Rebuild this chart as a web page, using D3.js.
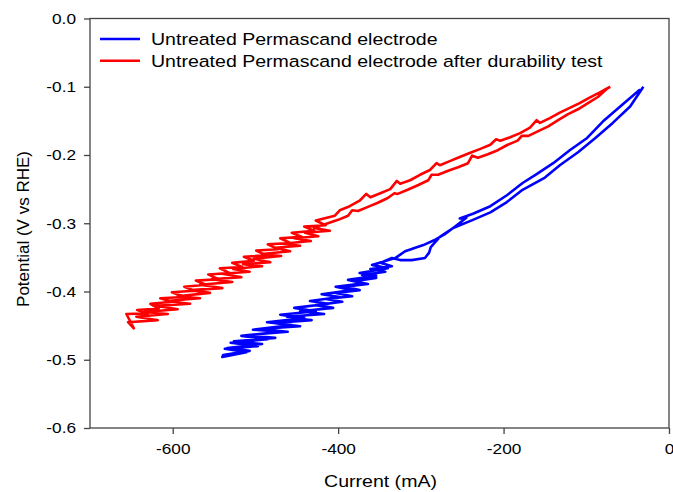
<!DOCTYPE html>
<html>
<head>
<meta charset="utf-8">
<script src="https://cdn.jsdelivr.net/npm/d3@7"></script>
<style>
  body { margin: 0; background: #fff; }
  text { font-family: "Liberation Sans", Arial, sans-serif; }
</style>
</head>
<body>
<div id="chart"></div>
<script>

// series names
var seriesNames = ["Untreated Permascand electrode",
                   "Untreated Permascand electrode after durability test"];

// blue loop: [current mA, potential V], down the lower branch then back up
var blueCurrent = [-31, -47, -68, -89, -110, -132, -150, -177, -196, -216, -237, -261, -277,
  -288, -290, -295, -311, -325, -335,
  -349, -335, -361, -343, -371, -354, -381, -364, -392, -374, -403, -383, -415, -395,
  -427, -406, -446, -417, -462, -432, -478, -446, -495, -461, -512, -476, -526, -492,
  -534, -507, -539,
  -540, -511, -537, -497, -530, -485, -517, -470, -503, -456, -486, -441, -470, -427,
  -453, -412, -434, -398, -420, -383, -403, -369, -388, -354, -374, -340, -359, -331,
  -319, -297, -284, -271, -259, -245, -253, -237,
  -216, -196, -177, -160, -140, -120, -99, -80, -59, -35];
var bluePotential = [-0.100, -0.129, -0.153, -0.175, -0.196, -0.215, -0.233, -0.251, -0.269, -0.284, -0.295, -0.307, -0.320,
  -0.335, -0.343, -0.351, -0.354, -0.354, -0.351,
  -0.358, -0.363, -0.367, -0.371, -0.376, -0.380, -0.385, -0.389, -0.393, -0.398, -0.402, -0.407, -0.411, -0.415,
  -0.420, -0.424, -0.429, -0.433, -0.437, -0.442, -0.446, -0.451, -0.455, -0.459, -0.464, -0.468, -0.473, -0.477,
  -0.483, -0.487, -0.493,
  -0.496, -0.489, -0.484, -0.480, -0.475, -0.470, -0.465, -0.459, -0.456, -0.449, -0.445, -0.439, -0.434, -0.429,
  -0.424, -0.418, -0.414, -0.408, -0.404, -0.398, -0.393, -0.388, -0.383, -0.377, -0.373, -0.366, -0.361, -0.351,
  -0.341, -0.332, -0.325, -0.316, -0.305, -0.292, -0.293, -0.286,
  -0.275, -0.259, -0.241, -0.228, -0.212, -0.193, -0.175, -0.151, -0.129, -0.104];

// red loop after durability test: lower line down, noisy band down and up, upper line back
var redCurrent = [-75, -86, -98, -110, -122, -134, -146, -158, -170, -178, -183, -195, -207, -219, -231,
  -238, -243, -255, -267, -279, -287, -291, -303, -316, -328, -332, -340, -352, -364, -376, -383, -388, -400,
  -429, -410, -440, -424, -453, -433, -467, -446, -476, -458, -492, -469, -502, -482, -515, -492,
  -527, -507, -540, -517, -553, -528, -567, -540, -579, -555, -594, -567, -608, -579, -621, -594,
  -634, -606, -644, -618, -654, -647,
  -656, -630, -643, -617, -627, -601, -615, -586, -601, -574, -586, -560, -572, -545, -557, -531,
  -543, -516, -528, -502, -514, -487, -499, -473, -485, -458, -470, -444, -456, -429, -441, -415,
  -427, -404,
  -398, -386, -374, -366, -361, -349, -337, -329, -325, -313, -301, -289, -281, -277, -265, -253,
  -241, -228, -216, -209, -204, -192, -180, -168, -160, -156, -144, -132, -120, -108, -96, -83, -71];
var redPotential = [-0.103, -0.115, -0.124, -0.133, -0.140, -0.149, -0.158, -0.165, -0.172, -0.172, -0.179, -0.185, -0.193, -0.199, -0.204,
  -0.201, -0.212, -0.218, -0.223, -0.229, -0.229, -0.237, -0.244, -0.251, -0.257, -0.256, -0.263, -0.270, -0.276, -0.282, -0.281, -0.289, -0.295,
  -0.307, -0.311, -0.314, -0.319, -0.322, -0.326, -0.330, -0.333, -0.336, -0.341, -0.345, -0.348, -0.352, -0.357, -0.360, -0.363,
  -0.367, -0.371, -0.374, -0.379, -0.382, -0.386, -0.390, -0.395, -0.398, -0.402, -0.407, -0.410, -0.414, -0.418, -0.421, -0.426,
  -0.430, -0.433, -0.437, -0.442, -0.445, -0.454,
  -0.433, -0.432, -0.427, -0.425, -0.418, -0.415, -0.410, -0.408, -0.401, -0.399, -0.393, -0.390, -0.384, -0.382, -0.375, -0.373,
  -0.366, -0.364, -0.358, -0.355, -0.349, -0.347, -0.340, -0.338, -0.331, -0.329, -0.322, -0.320, -0.314, -0.311, -0.305, -0.303,
  -0.296, -0.289,
  -0.281, -0.275, -0.267, -0.257, -0.262, -0.256, -0.250, -0.238, -0.242, -0.237, -0.229, -0.222, -0.212, -0.215, -0.209, -0.203,
  -0.197, -0.191, -0.185, -0.177, -0.179, -0.174, -0.168, -0.160, -0.149, -0.153, -0.146, -0.138, -0.131, -0.124, -0.116, -0.108, -0.100];

var xTicks = [-600, -400, -200, 0];
var yTicks = [-0.6, -0.5, -0.4, -0.3, -0.2, -0.1, 0.0];

var svg_width = 673;
var svg_height = 492;
var plot_left = 90, plot_right = 669, plot_top = 18.5, plot_bottom = 428;
var axis_color = "#444";
var stretch = 1.15; // reference text is wider than it is tall
var line_width = 2.6;

var x = d3.scaleLinear().domain([-700, 0]).range([plot_left, plot_right]);
var y = d3.scaleLinear().domain([-0.6, 0]).range([plot_bottom, plot_top]);

var svg = d3.select('#chart')
  .append('svg')
  .attr('width', svg_width)
  .attr('height', svg_height);

var blue = blueCurrent.map(function(d, i) { return [d, bluePotential[i]]; });
var red = redCurrent.map(function(d, i) { return [d, redPotential[i]]; });

var line = d3.line()
  .x(function(d) { return x(d[0]); })
  .y(function(d) { return y(d[1]); });

svg.append('path').datum(blue)
  .attr('d', line)
  .attr('fill', 'none')
  .attr('stroke', '#0000ff')
  .attr('stroke-width', line_width)
  .attr('stroke-linejoin', 'round');

svg.append('path').datum(red)
  .attr('d', line)
  .attr('fill', 'none')
  .attr('stroke', '#ff0000')
  .attr('stroke-width', line_width)
  .attr('stroke-linejoin', 'round');

// frame
svg.append('rect')
  .attr('x', plot_left).attr('y', plot_top)
  .attr('width', plot_right - plot_left).attr('height', plot_bottom - plot_top)
  .attr('fill', 'none')
  .attr('stroke', axis_color)
  .attr('stroke-width', 1.3);

var xAxis = d3.axisBottom(x)
  .tickValues(xTicks)
  .tickSize(6)
  .tickPadding(9)
  .tickFormat(function(d) { return d.toFixed(0); });

var yAxis = d3.axisLeft(y)
  .tickValues(yTicks)
  .tickSize(6)
  .tickPadding(8)
  .tickFormat(function(d) { return d.toFixed(1); });

var gx = svg.append('g')
  .attr('transform', 'translate(0,' + plot_bottom + ')')
  .call(xAxis);
var gy = svg.append('g')
  .attr('transform', 'translate(' + plot_left + ',0)')
  .call(yAxis);

[gx, gy].forEach(function(g) {
  g.select('.domain').remove();
  g.selectAll('.tick line').attr('stroke', axis_color).attr('stroke-width', 1.3);
  g.selectAll('.tick text')
    .attr('fill', '#000')
    .attr('transform', 'scale(' + stretch + ',1)')
    .style('font-family', '"Liberation Sans", Arial, sans-serif')
    .style('font-size', '15px');
});
gy.selectAll('.tick text').attr('x', -14 / stretch);

// axis titles
svg.append('text')
  .attr('transform', 'translate(' + ((plot_left + plot_right) / 2 + 1) + ',487) scale(' + stretch + ',1)')
  .attr('text-anchor', 'middle')
  .style('font-size', '17px')
  .text('Current (mA)');

svg.append('text')
  .attr('transform', 'translate(29,229) rotate(-90)')
  .attr('text-anchor', 'middle')
  .style('font-size', '17px')
  .text('Potential (V vs RHE)');

// legend
var legendColors = ['#0000ff', '#ff0000'];
var legend = svg.selectAll('.legend')
  .data(seriesNames)
  .enter()
  .append('g')
  .attr('class', 'legend')
  .attr('transform', function(d, i) { return 'translate(100,' + (39 + i * 21.7) + ')'; });

legend.append('line')
  .attr('x1', 0).attr('x2', 40)
  .attr('stroke', function(d, i) { return legendColors[i]; })
  .attr('stroke-width', line_width);

legend.append('text')
  .attr('transform', 'translate(51,0) scale(' + stretch + ',1)')
  .attr('dy', '0.35em')
  .style('font-size', '17px')
  .text(function(d) { return d; });

</script>
</body>
</html>
